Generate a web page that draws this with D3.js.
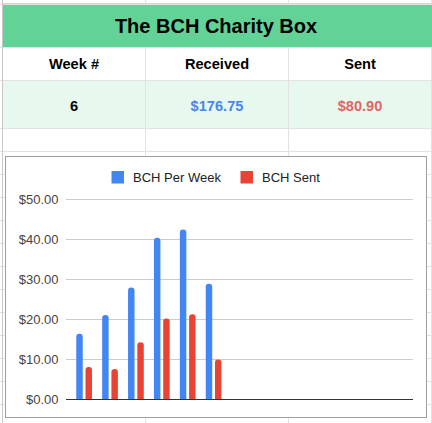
<!DOCTYPE html>
<html>
<head>
<meta charset="utf-8">
<script src="https://cdn.jsdelivr.net/npm/d3@7"></script>
<style>
  body { margin: 0; background: #fff; }
  svg { display: block; font-family: Arial, "Liberation Sans", sans-serif; }
</style>
</head>
<body>
<div id="chart"></div>
<script>
// data
const title = "The BCH Charity Box";
const headers = ["Week #", "Received", "Sent"];
const summary = ["6", "$176.75", "$80.90"];
const weeks = ["1", "2", "3", "4", "5", "6"];
const perWeek = [16.3, 21.0, 27.9, 40.3, 42.4, 28.8];
const sent = [8.0, 7.5, 14.2, 20.1, 21.2, 9.9];
const seriesNames = ["BCH Per Week", "BCH Sent"];
const yTicks = [0, 10, 20, 30, 40, 50];
// empty week slots the chart leaves room for
const slotCount = 13;

const W = 432, H = 423;
const svg = d3.select("#chart").append("svg").attr("width", W).attr("height", H);

// ---- spreadsheet grid ----
const colX = [2.5, 145.5, 288.5, 431.5];
const rowY = [3.5, 47, 80, 128, 151];
const lowerRows = d3.range(174, H, 23);

svg.append("rect").attr("x", 3).attr("y", 3.5).attr("width", W - 3).attr("height", 43.5).attr("fill", "#63d297");
svg.append("rect").attr("x", 3).attr("y", 80).attr("width", W - 3).attr("height", 48).attr("fill", "#e7f9ef");

const grid = svg.append("g").attr("stroke", "#e2e2e2").attr("stroke-width", 1);
rowY.concat(lowerRows).forEach(y =>
  grid.append("line").attr("x1", 0).attr("x2", W).attr("y1", Math.round(y) + 0.5).attr("y2", Math.round(y) + 0.5));
colX.slice(1).forEach(x => {
  grid.append("line").attr("x1", x).attr("x2", x).attr("y1", 0).attr("y2", 3.5);
  grid.append("line").attr("x1", x).attr("x2", x).attr("y1", 47).attr("y2", H);
});
svg.append("line").attr("x1", colX[0]).attr("x2", colX[0]).attr("y1", 0).attr("y2", H)
  .attr("stroke", "#c8c8c8");

// ---- table text ----
svg.append("text").attr("x", 216).attr("y", 33).attr("text-anchor", "middle")
  .style("font-size", "20px").style("font-weight", "bold").attr("fill", "#000").text(title);

const colCenter = i => (colX[i] + colX[i + 1]) / 2;
headers.forEach((h, i) =>
  svg.append("text").attr("x", colCenter(i)).attr("y", 68.5).attr("text-anchor", "middle")
    .style("font-size", "14.6px").style("font-weight", "bold").attr("fill", "#000").text(h));
const summaryColors = ["#000", "#4a86e8", "#e06666"];
summary.forEach((s, i) =>
  svg.append("text").attr("x", colCenter(i)).attr("y", 110.5).attr("text-anchor", "middle")
    .style("font-size", "14.6px").style("font-weight", "bold").attr("fill", summaryColors[i]).text(s));

// ---- chart ----
svg.append("rect").attr("x", 5.5).attr("y", 156.5).attr("width", 421).attr("height", 261)
  .attr("fill", "#fff").attr("stroke", "#9e9e9e");

const plotL = 66, plotR = 413;
const y = d3.scaleLinear().domain([0, 50]).range([399, 199]);
const x = d3.scaleBand().domain(d3.range(1, slotCount + 1).map(String))
  .range([plotL, plotR]).paddingInner(0).paddingOuter(0.2);
const xs = d3.scaleBand().domain(seriesNames).range([0, x.bandwidth()])
  .paddingInner(0.3).paddingOuter(0.55);
const colors = d3.scaleOrdinal().domain(seriesNames).range(["#4285f4", "#ea4335"]);

svg.append("g").selectAll("line").data(yTicks.slice(1)).join("line")
  .attr("x1", plotL).attr("x2", plotR)
  .attr("y1", d => Math.round(y(d)) + 0.5).attr("y2", d => Math.round(y(d)) + 0.5)
  .attr("stroke", "#cccccc");

svg.append("g").selectAll("text").data(yTicks).join("text")
  .attr("x", 58.5).attr("y", d => y(d) + 4.5).attr("text-anchor", "end")
  .style("font-size", "13px").attr("fill", "#444")
  .text(d => "$" + d3.format(".2f")(d));

function roundedTop(x0, y0, w, h, r) {
  r = Math.min(r, w / 2, h);
  return `M${x0},${y0 + h}V${y0 + r}Q${x0},${y0} ${x0 + r},${y0}H${x0 + w - r}Q${x0 + w},${y0} ${x0 + w},${y0 + r}V${y0 + h}Z`;
}

const bars = [];
weeks.forEach((wk, i) => {
  bars.push({ week: wk, series: seriesNames[0], value: perWeek[i] });
  bars.push({ week: wk, series: seriesNames[1], value: sent[i] });
});

svg.append("g").selectAll("path").data(bars).join("path")
  .attr("d", d => roundedTop(x(d.week) + xs(d.series), y(d.value), xs.bandwidth(), y(0) - y(d.value), 3))
  .attr("fill", d => colors(d.series));

svg.append("line").attr("x1", plotL).attr("x2", plotR).attr("y1", 399.5).attr("y2", 399.5)
  .attr("stroke", "#333");

// legend
const legendPos = [111.5, 240.5];
const legend = svg.append("g");
seriesNames.forEach((name, i) => {
  legend.append("rect").attr("x", legendPos[i]).attr("y", 171).attr("width", 12.5).attr("height", 12.5)
    .attr("fill", colors(name));
  legend.append("text").attr("x", legendPos[i] + 21.5).attr("y", 182)
    .style("font-size", "13px").attr("fill", "#222").text(name);
});
</script>
</body>
</html>
